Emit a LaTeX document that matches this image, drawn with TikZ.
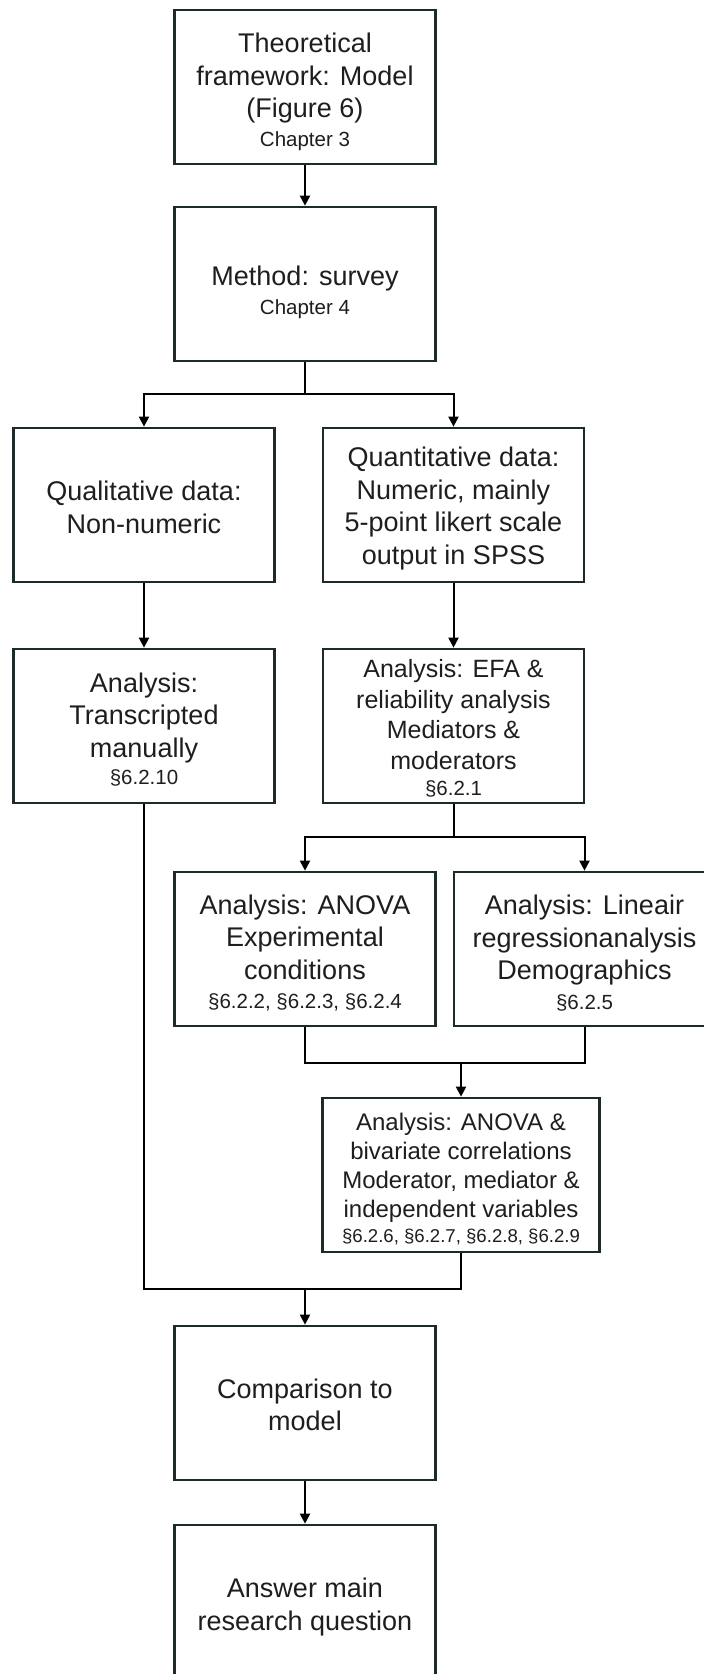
\documentclass[tikz,border=0pt]{standalone}
\usepackage{fontspec}
\setmainfont{Liberation Sans}
\usetikzlibrary{arrows.meta}
\definecolor{boxline}{RGB}{28,42,42}
\definecolor{ink}{RGB}{30,30,30}
\newcommand{\smalltxt}[1]{{\fontsize{20.5}{24}\selectfont #1}}
\newcommand{\tinytxt}[1]{{\fontsize{18.6}{22}\selectfont #1}}
% strut on the first line that lowers the text block by #1 pt
\newcommand{\dn}[1]{\rule{0pt}{\dimexpr0.74em+#1pt*2\relax}}
\begin{document}
\begin{tikzpicture}[x=1pt,y=-1pt,
  stepbox/.style={draw=boxline, line width=2.7pt, fill=white, text=ink,
    minimum width=261pt, minimum height=154pt, inner sep=0pt, align=center,
    font=\fontsize{27}{32.5}\selectfont},
  conn/.style={line width=2pt, draw=black},
  arr/.style={conn, -{Triangle[length=10pt,width=10pt]}}]
\clip (0,0) rectangle (704,1674);
\fill[white] (0,0) rectangle (704,1674);

% boxes
\node[stepbox] (b1) at (305,87) {\dn{5}Theoretical\\framework: Model\\(Figure 6)\\[-3.5pt]\smalltxt{Chapter 3}};
\node[stepbox] (b2) at (305,284) {\dn{8}Method: survey\\[-4pt]\smalltxt{Chapter 4}};
\node[stepbox] (qual) at (144,505) {\dn{2}Qualitative data:\\Non-numeric};
\node[stepbox] (quant) at (453.5,505) {\dn{3.5}Quantitative data:\\Numeric, mainly\\5-point likert scale\\output in SPSS};
\node[stepbox] (qualan) at (144,726) {\dn{3.5}Analysis:\\Transcripted\\manually\\[-5pt]\smalltxt{§6.2.10}};
\node[stepbox, font=\fontsize{25}{30.5}\selectfont] (efa) at (453.5,726) {\dn{2.5}Analysis: EFA \&\\reliability analysis\\Mediators \&\\moderators\\[-4pt]\smalltxt{§6.2.1}};
\node[stepbox] (anova) at (305,949) {\dn{4}Analysis: ANOVA\\Experimental\\conditions\\[-3pt]\smalltxt{§6.2.2, §6.2.3, §6.2.4}};
\node[stepbox] (linear) at (584.5,949) {\dn{4}Analysis: Lineair\\regressionanalysis\\Demographics\\[-3pt]\smalltxt{§6.2.5}};
\node[stepbox, minimum width=276.5pt, font=\fontsize{24}{29}\selectfont] (bivar) at (461,1175) {\dn{4}Analysis: ANOVA \&\\bivariate correlations\\Moderator, mediator \&\\independent variables\\[-4pt]\tinytxt{§6.2.6, §6.2.7, §6.2.8, §6.2.9}};
\node[stepbox] (comp) at (305,1403) {\dn{1.5}Comparison to\\model};
\node[stepbox] (answer) at (305,1602) {\dn{5}Answer main\\research question};

% junction points
\coordinate (s1) at (305,394);
\coordinate (s2) at (453.5,837);
\coordinate (s3) at (461,1063);
\coordinate (s4) at (305,1289);

% connectors
\draw[arr] (b1.south) -- (b2.north);
\draw[conn] (b2.south) -- (s1);
\draw[arr] (s1) -| (qual.north);
\draw[arr] (s1) -| (quant.north);
\draw[arr] (qual.south) -- (qualan.north);
\draw[arr] (quant.south) -- (efa.north);
\draw[conn] (efa.south) -- (s2);
\draw[arr] (s2) -| (anova.north);
\draw[arr] (s2) -| (linear.north);
\draw[conn] (anova.south) |- (s3);
\draw[conn] (linear.south) |- (s3);
\draw[arr] (s3) -- (bivar.north);
\draw[conn] (qualan.south) |- (s4);
\draw[conn] (bivar.south) |- (s4);
\draw[arr] (s4) -- (comp.north);
\draw[arr] (comp.south) -- (answer.north);
\end{tikzpicture}
\end{document}
